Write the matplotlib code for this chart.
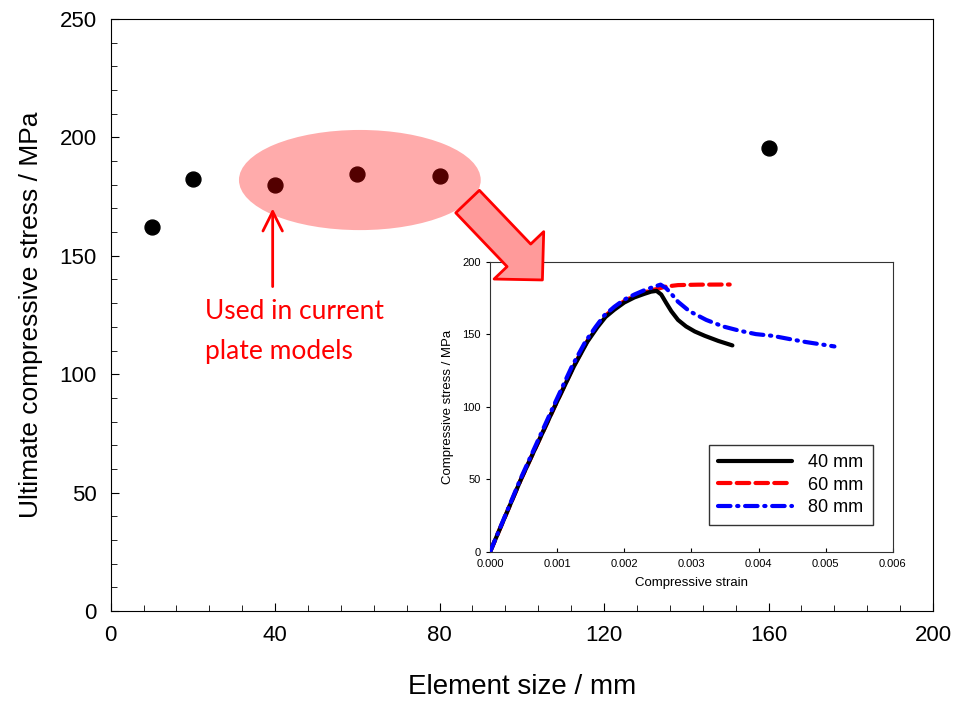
import matplotlib
matplotlib.use('Agg')
import matplotlib.pyplot as plt
import matplotlib.patches as mpatches
from matplotlib.ticker import MultipleLocator, FormatStrFormatter

plt.rcParams['font.family'] = ['Liberation Sans', 'DejaVu Sans']

# main chart: ultimate strength vs element size
elem_size = [10, 20, 40, 60, 80, 160]
ult_stress = [162, 182.3, 179.8, 184.4, 183.8, 195.5]

# inset: stress-strain curves
strain_40 = [0, 0.00046, 0.00096, 0.00125, 0.00145, 0.00160, 0.00172, 0.00185, 0.00200, 0.00215,
             0.00230, 0.00240, 0.00248, 0.00255, 0.00262, 0.00270, 0.00280, 0.00292, 0.00305,
             0.00320, 0.00340, 0.00361]
stress_40 = [0, 50, 100, 128, 145, 155, 162, 167, 172, 175.5,
             178, 179.5, 180, 177.5, 172, 166, 160, 155.5, 152,
             149, 145.5, 142.4]
strain_60 = [0, 0.00046, 0.00096, 0.00125, 0.00145, 0.00160, 0.00172, 0.00185, 0.00200, 0.00215,
             0.00230, 0.00240, 0.00250, 0.00262, 0.00280, 0.00310, 0.00357]
stress_60 = [0, 50, 100, 128.5, 145.5, 156, 163, 168, 173, 176.5,
             179, 180.3, 181.5, 183, 184, 184.3, 184.4]
strain_80 = [0, 0.00045, 0.00094, 0.00122, 0.00142, 0.00157, 0.00170, 0.00185, 0.00200, 0.00215,
             0.00230, 0.00245, 0.00254, 0.00262, 0.00270, 0.00280, 0.00297, 0.00322, 0.00347,
             0.00372, 0.00396, 0.00421, 0.00446, 0.00471, 0.00513]
stress_80 = [0, 50, 100, 128, 145, 155, 163, 169, 174, 177.5,
             180.5, 183, 184.3, 182, 178, 172.5, 166, 160, 155.5,
             152.5, 150.2, 149, 146.8, 144.7, 141.7]
labels = ['40 mm', '60 mm', '80 mm']

fig = plt.figure(figsize=(9.59, 7.04), dpi=100)
ax = fig.add_axes([0.1154, 0.1321, 0.8575, 0.8409])

ax.scatter(elem_size, ult_stress, s=115, color='black', zorder=2)

# highlight ellipse
ell = mpatches.Ellipse((60.6, 182), 58.8, 42.3, facecolor='red', alpha=0.33,
                       edgecolor='none', zorder=3)
ax.add_patch(ell)

ax.annotate('', xy=(39.4, 170), xytext=(39.4, 137),
            arrowprops=dict(arrowstyle='->,head_length=1.4,head_width=0.7',
                            color='red', lw=2, shrinkA=0, shrinkB=0))
ax.text(23, 118, 'Used in current\nplate models', color='red', fontsize=19,
        family='Lato', linespacing=1.75, va='center', ha='left')

ax.set_xlim(0, 200)
ax.set_ylim(0, 250)
ax.xaxis.set_major_locator(MultipleLocator(40))
ax.xaxis.set_minor_locator(MultipleLocator(8))
ax.yaxis.set_major_locator(MultipleLocator(50))
ax.yaxis.set_minor_locator(MultipleLocator(10))
ax.tick_params(which='both', direction='in', top=False, right=False, labelsize=16, pad=10)
ax.tick_params(which='major', length=6)
ax.tick_params(which='minor', length=4)
ax.set_xlabel('Element size / mm', fontsize=20, labelpad=20)
ax.set_ylabel('Ultimate compressive stress / MPa', fontsize=19, labelpad=12)

# inset
axin = fig.add_axes([0.511, 0.216, 0.420, 0.412])
line_kw = dict(lw=3, solid_capstyle='round', dash_capstyle='round')
axin.plot(strain_40, stress_40, color='black', label=labels[0], zorder=3, **line_kw)
axin.plot(strain_60, stress_60, color='red', ls=(0, (3, 1.5)), label=labels[1], zorder=2, **line_kw)
axin.plot(strain_80, stress_80, color='blue', ls=(0, (3, 1.6, 0.3, 1.6)), label=labels[2], zorder=4, **line_kw)
axin.set_xlim(0, 0.006)
axin.set_ylim(0, 200)
axin.xaxis.set_major_locator(MultipleLocator(0.001))
axin.xaxis.set_major_formatter(FormatStrFormatter('%.3f'))
axin.yaxis.set_major_locator(MultipleLocator(50))
axin.tick_params(axis='x', direction='in', labelsize=8, length=3, pad=5)
axin.tick_params(axis='y', direction='out', labelsize=8, length=3)
axin.set_xlabel('Compressive strain', fontsize=9.5, labelpad=6)
axin.set_ylabel('Compressive stress / MPa', fontsize=9.5, labelpad=6)
for sp in axin.spines.values():
    sp.set_color('#333333')
leg = axin.legend(loc='lower right', bbox_to_anchor=(0.95, 0.093), fontsize=13,
                  frameon=True, fancybox=False, edgecolor='#333333', framealpha=1,
                  handlelength=4.1, borderpad=0.5, labelspacing=0.3, handletextpad=0.9,
                  borderaxespad=0)
leg.get_frame().set_linewidth(1)

# big arrow from ellipse to inset, drawn on top of inset
big = mpatches.FancyArrowPatch((86.8, 172.9), (105, 139.8), transform=ax.transData,
                               arrowstyle='simple,head_length=24.5,head_width=49.4,tail_width=23.5',
                               mutation_scale=1, facecolor='#ff9a9a', edgecolor='red', lw=2,
                               shrinkA=0, shrinkB=0, zorder=10)
fig.add_artist(big)

fig.savefig('out.png', dpi=100)
